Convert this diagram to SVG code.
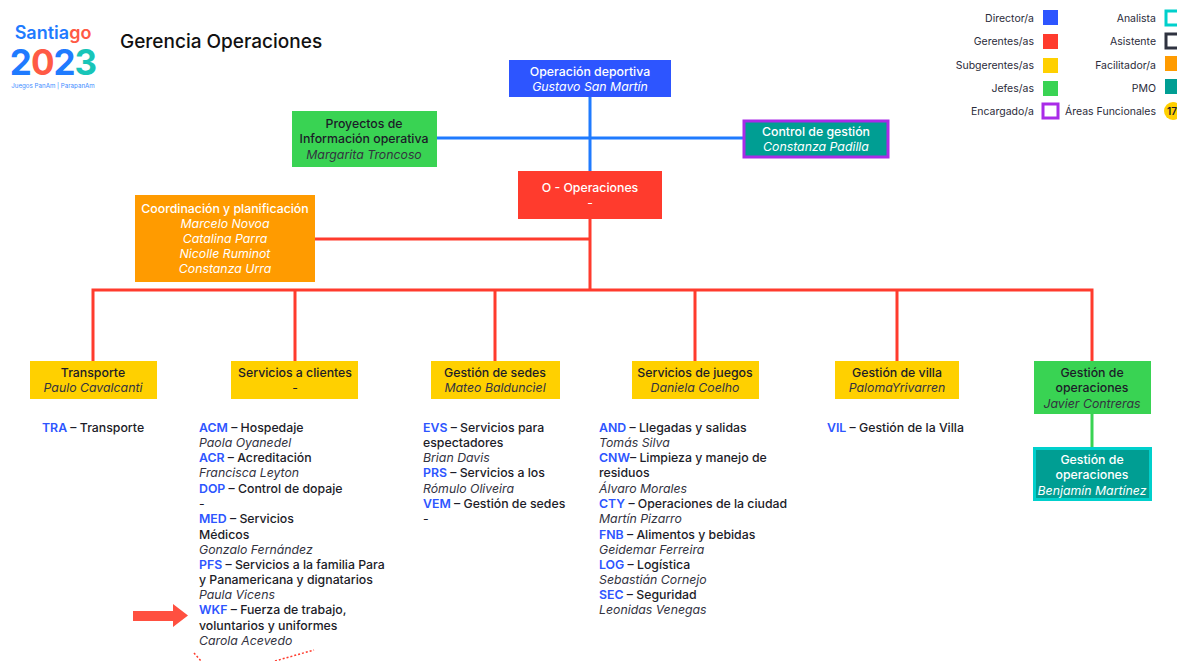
<svg xmlns="http://www.w3.org/2000/svg" width="1177" height="661" viewBox="0 0 1177 661">
<style>
text{font-family:"Inter","Liberation Sans",sans-serif;font-size:12.3px;fill:#1c1c28}
.c{text-anchor:middle}
.e{text-anchor:end;font-size:10.5px;fill:#2b2b3a}
.n{font-style:italic;fill:#33333f}
.b{font-weight:500}
.w{fill:#fff}
.cd{fill:#2d55ff;font-weight:600}
.lb{fill:none;stroke-width:3.2;stroke-linejoin:miter}
.r{stroke:#ff3b2d;stroke-width:3;fill:none}
.bl{stroke:#1f7bff;stroke-width:3;fill:none}
</style>
<g id="logo">
<text x="53" y="39" class="c" style="font-size:18px;font-weight:600;fill:#1f7bff">Santia<tspan fill="#ff5a45">go</tspan></text>
<text x="53" y="75" class="c" style="font-size:35px;font-weight:700;letter-spacing:-1px;fill:#1f7bff"><tspan fill="#1f7bff">2</tspan><tspan fill="#ff5a45">0</tspan><tspan fill="#1f7bff">2</tspan><tspan fill="#18c5b8">3</tspan></text>
<text x="53" y="88" class="c" style="font-size:6.2px;fill:#3c8cff">Juegos PanAm | ParapanAm</text>
</g>
<text id="title" x="120" y="48" style="font-size:19px;font-weight:500;fill:#111">Gerencia Operaciones</text>
<g id="legend">
<text x="1034" y="22" class="e">Director/a</text><rect x="1043" y="10" width="15" height="15" fill="#2d55ff"/>
<text x="1034" y="45" class="e">Gerentes/as</text><rect x="1043" y="34" width="15" height="15" fill="#ff3b2d"/>
<text x="1034" y="69" class="e">Subgerentes/as</text><rect x="1043" y="58" width="15" height="15" fill="#ffd000"/>
<text x="1034" y="92" class="e">Jefes/as</text><rect x="1043" y="81" width="15" height="15" fill="#39d353"/>
<text x="1034" y="115" class="e">Encargado/a</text><rect x="1043" y="104" width="15" height="14" fill="#fff" stroke="#a92be8" stroke-width="3"/>
<text x="1156" y="22" class="e">Analista</text><rect x="1166" y="11" width="15" height="14" fill="#fff" stroke="#00d0cc" stroke-width="3"/>
<text x="1156" y="45" class="e">Asistente</text><rect x="1166" y="34" width="15" height="14" fill="#fff" stroke="#2f3340" stroke-width="3"/>
<text x="1156" y="69" class="e">Facilitador/a</text><rect x="1165" y="56" width="14" height="15" fill="#ff9b00"/>
<text x="1156" y="92" class="e">PMO</text><rect x="1165" y="79" width="14" height="15" fill="#009e93"/>
<text x="1156" y="115" class="e">Áreas Funcionales</text><circle cx="1173" cy="111" r="9" fill="#ffd000"/><text x="1172" y="115" class="c" style="font-size:10px;font-weight:600">17</text>
</g>
<g id="connectors">
<path class="bl" d="M590 97V172M437 138H744"/>
<path class="r" d="M590 218V290M315 239H590M93 320V290H1092V361M93 320V361M295 290V361M495 290V361M695 290V361M897 290V361"/>
<path d="M1092 414V448" stroke="#39d353" stroke-width="3" fill="none"/>
</g>
<g id="n-deportiva"><rect x="509" y="60" width="162" height="37" fill="#2d55ff"/><text x="590" y="76" class="c b w">Operación deportiva</text><text x="590" y="91" class="c n w" style="fill:#fff">Gustavo San Martín</text></g>
<g id="n-proyectos"><rect x="292" y="111" width="145" height="56" fill="#39d353"/><text x="364" y="128" class="c b">Proyectos de</text><text x="364" y="143" class="c b">Información operativa</text><text x="364" y="159" class="c n">Margarita Troncoso</text></g>
<g id="n-control"><rect x="744" y="121" width="144" height="36" fill="#009e93" stroke="#a92be8" stroke-width="3"/><text x="816" y="136" class="c b w">Control de gestión</text><text x="816" y="151" class="c n" style="fill:#fff">Constanza Padilla</text></g>
<g id="n-operaciones"><rect x="518" y="171" width="144" height="48" fill="#ff3b2d"/><text x="590" y="192" class="c b w">O - Operaciones</text><text x="590" y="207" class="c w">-</text></g>
<g id="n-coordinacion"><rect x="135" y="195" width="180" height="87" fill="#ff9b00"/><text x="225" y="213" class="c b w">Coordinación y  planificación</text><text x="225" y="228" class="c n" style="fill:#fff">Marcelo Novoa</text><text x="225" y="243" class="c n" style="fill:#fff">Catalina Parra</text><text x="225" y="258" class="c n" style="fill:#fff">Nicolle Ruminot</text><text x="225" y="273" class="c n" style="fill:#fff">Constanza Urra</text></g>
<g id="n-transporte"><rect x="30" y="361" width="127" height="38" fill="#ffd000"/><text x="93" y="377" class="c b">Transporte</text><text x="93" y="392" class="c n">Paulo Cavalcanti</text></g>
<g id="n-clientes"><rect x="231" y="361" width="127" height="38" fill="#ffd000"/><text x="295" y="377" class="c b">Servicios a clientes</text><text x="295" y="392" class="c">-</text></g>
<g id="n-sedes"><rect x="431" y="361" width="129" height="38" fill="#ffd000"/><text x="495" y="377" class="c b">Gestión de sedes</text><text x="495" y="392" class="c n">Mateo Balduncìel</text></g>
<g id="n-juegos"><rect x="632" y="361" width="127" height="38" fill="#ffd000"/><text x="695" y="377" class="c b">Servicios de juegos</text><text x="695" y="392" class="c n">Daniela Coelho</text></g>
<g id="n-villa"><rect x="835" y="361" width="124" height="38" fill="#ffd000"/><text x="897" y="377" class="c b">Gestión de villa</text><text x="897" y="392" class="c n">PalomaYrivarren</text></g>
<g id="n-gestop"><rect x="1034" y="361" width="117" height="53" fill="#39d353"/><text x="1092" y="377" class="c b">Gestión de</text><text x="1092" y="392" class="c b">operaciones</text><text x="1092" y="408" class="c n">Javier Contreras</text></g>
<g id="n-gestop2"><rect x="1034.500" y="448.500" width="116" height="51" fill="#009e93" stroke="#00d0cc" stroke-width="3"/><text x="1092" y="464" class="c b w">Gestión de</text><text x="1092" y="479" class="c b w">operaciones</text><text x="1092" y="495" class="c n" style="fill:#fff">Benjamín Martínez</text></g>
<g id="list-tra"><text x="42" y="432"><tspan class="cd">TRA</tspan><tspan class="b"> – Transporte</tspan></text></g>
<g id="list-clientes">
<text x="199" y="432"><tspan class="cd">ACM</tspan><tspan class="b"> – Hospedaje</tspan></text>
<text x="199" y="447" class="n">Paola Oyanedel</text>
<text x="199" y="462"><tspan class="cd">ACR</tspan><tspan class="b"> – Acreditación</tspan></text>
<text x="199" y="477" class="n">Francisca Leyton</text>
<text x="199" y="493"><tspan class="cd">DOP</tspan><tspan class="b"> – Control de dopaje</tspan></text>
<text x="199" y="508">-</text>
<text x="199" y="523"><tspan class="cd">MED</tspan><tspan class="b"> – Servicios</tspan></text>
<text x="199" y="539" class="b">Médicos</text>
<text x="199" y="554" class="n">Gonzalo Fernández</text>
<text x="199" y="569"><tspan class="cd">PFS</tspan><tspan class="b"> – Servicios a la familia Para</tspan></text>
<text x="199" y="584" class="b">y Panamericana y dignatarios</text>
<text x="199" y="599" class="n">Paula Vicens</text>
<text x="199" y="614"><tspan class="cd">WKF</tspan><tspan class="b"> – Fuerza de trabajo,</tspan></text>
<text x="199" y="630" class="b">voluntarios y uniformes</text>
<text x="199" y="645" class="n">Carola Acevedo</text>
</g>
<g id="list-sedes">
<text x="423" y="432"><tspan class="cd">EVS</tspan><tspan class="b"> – Servicios para</tspan></text>
<text x="423" y="447" class="b">espectadores</text>
<text x="423" y="462" class="n">Brian Davis</text>
<text x="423" y="477"><tspan class="cd">PRS</tspan><tspan class="b"> – Servicios a los</tspan></text>
<text x="423" y="493" class="n">Rómulo Oliveira</text>
<text x="423" y="508"><tspan class="cd">VEM</tspan><tspan class="b"> – Gestión de sedes</tspan></text>
<text x="423" y="523">-</text>
</g>
<g id="list-juegos">
<text x="599" y="432"><tspan class="cd">AND</tspan><tspan class="b"> – Llegadas y salidas</tspan></text>
<text x="599" y="447" class="n">Tomás Silva</text>
<text x="599" y="462"><tspan class="cd">CNW</tspan><tspan class="b">– Limpieza y manejo de</tspan></text>
<text x="599" y="477" class="b">residuos</text>
<text x="599" y="493" class="n">Álvaro Morales</text>
<text x="599" y="508"><tspan class="cd">CTY</tspan><tspan class="b"> – Operaciones de la ciudad</tspan></text>
<text x="599" y="523" class="n">Martín Pizarro</text>
<text x="599" y="539"><tspan class="cd">FNB</tspan><tspan class="b"> – Alimentos y bebidas</tspan></text>
<text x="599" y="554" class="n">Geidemar Ferreira</text>
<text x="599" y="569"><tspan class="cd">LOG</tspan><tspan class="b"> – Logística</tspan></text>
<text x="599" y="584" class="n">Sebastián Cornejo</text>
<text x="599" y="599"><tspan class="cd">SEC</tspan><tspan class="b"> – Seguridad</tspan></text>
<text x="599" y="614" class="n">Leonidas Venegas</text>
</g>
<g id="list-villa"><text x="827" y="432"><tspan class="cd">VIL</tspan><tspan class="b"> – Gestión de la Villa</tspan></text></g>
<path id="arrow" d="M133 611H173V604L188 615.500L173 627V621H133Z" fill="#ff5040"/>
<path id="dotted" d="M194 653L201 661M275 661L314 650" stroke="#ff3b2d" stroke-width="1.500" stroke-dasharray="2 2" fill="none"/>
</svg>
